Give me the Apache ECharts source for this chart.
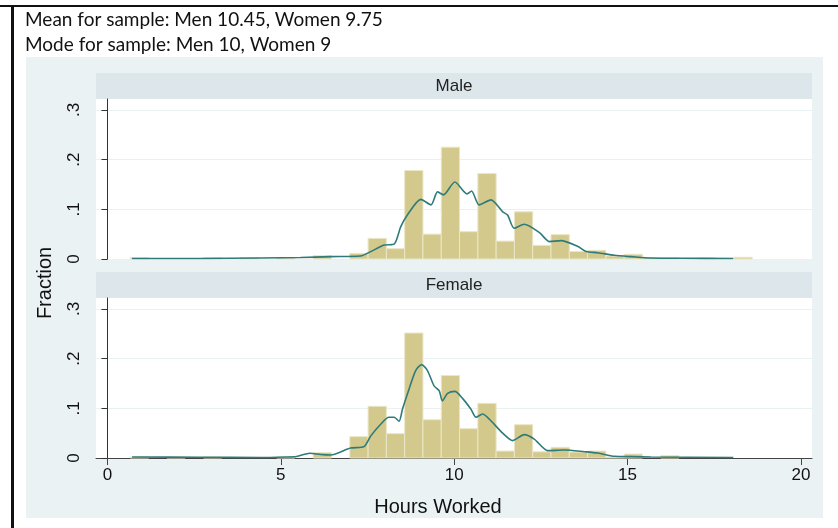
<!DOCTYPE html>
<html>
<head>
<meta charset="utf-8">
<script src="https://cdn.jsdelivr.net/npm/echarts@6/dist/echarts.min.js"></script>
<style>
  html, body { margin: 0; padding: 0; background: #fff; }
  #hist { width: 838px; height: 528px; }
</style>
</head>
<body>
<div id="hist"></div>
<script>
// histogram bins (same bins for both panels), fraction per bin
var binStart = 0.66;
var binWidth = 0.5275;
var maleFrac = [0.003, 0, 0, 0, 0.003, 0, 0.003, 0, 0.002, 0, 0.007, 0,
	0.0114, 0.0416, 0.0208, 0.178, 0.050, 0.225, 0.055, 0.172, 0.036, 0.095,
	0.0275, 0.049, 0.015, 0.0175, 0.006, 0.0095, 0.003, 0.003, 0, 0.002, 0, 0.0035];
var femaleFrac = [0.002, 0, 0.002, 0, 0.002, 0, 0, 0, 0.002, 0, 0.011, 0,
	0.043, 0.104, 0.049, 0.2515, 0.077, 0.166, 0.059, 0.110, 0.014, 0.067,
	0.0125, 0.0215, 0.012, 0.014, 0.002, 0.008, 0, 0.005, 0, 0, 0, 0];

// kernel density, [hours, density]
var maleKdeX = [0.71, 2.68, 4.41, 5.57, 6.43, 7.30, 7.59, 7.98, 8.27, 8.46, 8.65, 9.04, 9.33,
	9.52, 9.69, 10.02, 10.37, 10.50, 10.72, 11.06, 11.40, 11.54, 11.73, 12.02, 12.46, 12.75,
	13.08, 13.57, 13.81, 14.14, 14.62, 15.11, 15.68, 16.55, 18.05];
var maleKdeY = [0.001, 0.001, 0.002, 0.003, 0.0047, 0.006, 0.0148, 0.028, 0.030, 0.065, 0.0885,
	0.120, 0.109, 0.135, 0.129, 0.155, 0.131, 0.137, 0.109, 0.119, 0.095, 0.0885, 0.062, 0.070,
	0.053, 0.035, 0.037, 0.025, 0.015, 0.0127, 0.0074, 0.0047, 0.002, 0.0015, 0.001];
var femaleKdeX = [0.71, 2.68, 4.41, 5.13, 5.45, 5.84, 6.15, 6.44, 7.01, 7.40, 7.59, 7.88, 8.12,
	8.27, 8.41, 8.51, 8.70, 8.89, 9.06, 9.23, 9.42, 9.57, 9.66, 9.81, 10.02, 10.24, 10.48,
	10.63, 10.82, 11.01, 11.40, 11.69, 12.02, 12.31, 12.70, 13.18, 13.76, 14.14, 14.62,
	15.11, 15.68, 18.05];
var femaleKdeY = [0.002, 0.0015, 0.001, 0.002, 0.003, 0.0095, 0.007, 0.006, 0.020, 0.023, 0.044,
	0.068, 0.082, 0.082, 0.074, 0.0986, 0.139, 0.176, 0.188, 0.176, 0.145, 0.135, 0.115, 0.130,
	0.134, 0.120, 0.0986, 0.082, 0.0885, 0.0785, 0.050, 0.035, 0.047, 0.038, 0.0148, 0.016,
	0.0127, 0.010, 0.0034, 0.0027, 0.002, 0.001];

var xTicks = [0, 5, 10, 15, 20];
var yTicks = [0, 0.1, 0.2, 0.3];
var panelNames = ["Male", "Female"];

var barColor = "#d3c98c";
var barEdge = "#ebe6c8";
var lineColor = "#2f7b79";

function binRows(frac){
	var rows = [];
	for(var i=0;i<frac.length;i++){
		if(frac[i]>0){
			rows.push([binStart + i*binWidth, binStart + (i+1)*binWidth, frac[i]]);
		}
	}
	return rows;
}
function pairs(xs, ys){
	var out = [];
	for(var i=0;i<xs.length;i++){ out.push([xs[i], ys[i]]); }
	return out;
}
function renderBin(params, api){
	var p0 = api.coord([api.value(0), 0]);
	var p1 = api.coord([api.value(1), api.value(2)]);
	return {
		type: 'rect',
		shape: { x: p0[0], y: p1[1], width: p1[0]-p0[0], height: p0[1]-p1[1] },
		style: { fill: barColor, stroke: barEdge, lineWidth: 1 }
	};
}
function yLabel(v){
	if(v===0) return "0";
	return String(Math.round(v*10)/10).replace("0.", ".");
}

var myChart = echarts.init(document.getElementById("hist"), null, {renderer: 'canvas'});

var grids = [
	{ left: 96, top: 99, width: 716, height: 160 },
	{ left: 96, top: 298, width: 716, height: 160 }
];
var xAxes = [], yAxes = [];
for(var g=0; g<2; g++){
	grids[g].show = true;
	grids[g].backgroundColor = "#ffffff";
	grids[g].borderWidth = 0;
	xAxes.push({
		type: 'value', gridIndex: g, min: -0.33, max: 20.32, show: g===1,
		axisLine: { show: true, lineStyle: { color: "#444", width: 1 } },
		axisTick: { show: true, length: 7, customValues: xTicks, lineStyle: { color: "#444" } },
		axisLabel: { customValues: xTicks, margin: 9, color: "#111", fontSize: 17,
			fontFamily: "Liberation Sans" },
		splitLine: { show: false }
	});
	yAxes.push({
		type: 'value', gridIndex: g, min: 0, max: 0.322,
		axisLine: { show: true, lineStyle: { color: "#333", width: 1 } },
		axisTick: { show: true, length: 6, customValues: yTicks, lineStyle: { color: "#333" } },
		axisLabel: { customValues: yTicks, rotate: 90, margin: 13, color: "#111", fontSize: 17,
			fontFamily: "Liberation Sans", formatter: yLabel },
		splitLine: { show: true, lineStyle: { color: "#eaf1f1", width: 1 } }
	});
}

var option = {
	animation: false,
	backgroundColor: "#ffffff",
	graphic: [
		{ type: 'rect', z: -10, shape: { x: 0, y: 5, width: 838, height: 2 }, style: { fill: "#111" } },
		{ type: 'rect', z: -10, shape: { x: 11, y: 5, width: 3, height: 523 }, style: { fill: "#111" } },
		{ type: 'rect', z: -10, shape: { x: 26, y: 57, width: 797, height: 461 }, style: { fill: "#eaf2f4" } },
		{ type: 'rect', z: -9, shape: { x: 96, y: 73, width: 716, height: 26 }, style: { fill: "#dce6eb" } },
		{ type: 'rect', z: -9, shape: { x: 96, y: 272, width: 716, height: 26 }, style: { fill: "#dce6eb" } },
		{ type: 'text', x: 454, y: 86, style: { text: panelNames[0], fill: "#222",
			font: "17px 'Liberation Sans'", textAlign: 'center', textVerticalAlign: 'middle' } },
		{ type: 'text', x: 454, y: 285, style: { text: panelNames[1], fill: "#222",
			font: "17px 'Liberation Sans'", textAlign: 'center', textVerticalAlign: 'middle' } },
		{ type: 'text', x: 25, y: 20, style: { text: "Mean for sample: Men 10.45, Women 9.75", fill: "#111",
			font: "19px Lato", textVerticalAlign: 'middle' } },
		{ type: 'text', x: 25, y: 45, style: { text: "Mode for sample: Men 10, Women 9", fill: "#111",
			font: "19px Lato", textVerticalAlign: 'middle' } },
		{ type: 'text', x: 438, y: 507, style: { text: "Hours Worked", fill: "#111",
			font: "20px 'Liberation Sans'", textAlign: 'center', textVerticalAlign: 'middle' } },
		{ type: 'text', x: 45, y: 283, rotation: Math.PI/2, style: { text: "Fraction", fill: "#111",
			font: "20px 'Liberation Sans'", textAlign: 'center', textVerticalAlign: 'middle' } }
	],
	grid: grids,
	xAxis: xAxes,
	yAxis: yAxes,
	series: [
		{ name: 'Male', type: 'custom', xAxisIndex: 0, yAxisIndex: 0, renderItem: renderBin,
			encode: { x: [0, 1], y: 2 }, data: binRows(maleFrac) },
		{ name: 'Female', type: 'custom', xAxisIndex: 1, yAxisIndex: 1, renderItem: renderBin,
			encode: { x: [0, 1], y: 2 }, data: binRows(femaleFrac) },
		{ name: 'Male kdensity', type: 'line', xAxisIndex: 0, yAxisIndex: 0, showSymbol: false,
			smooth: 0.25, z: 5, lineStyle: { color: lineColor, width: 1.6 }, data: pairs(maleKdeX, maleKdeY) },
		{ name: 'Female kdensity', type: 'line', xAxisIndex: 1, yAxisIndex: 1, showSymbol: false,
			smooth: 0.25, z: 5, lineStyle: { color: lineColor, width: 1.6 }, data: pairs(femaleKdeX, femaleKdeY) }
	]
};
myChart.setOption(option);
</script>
</body>
</html>
